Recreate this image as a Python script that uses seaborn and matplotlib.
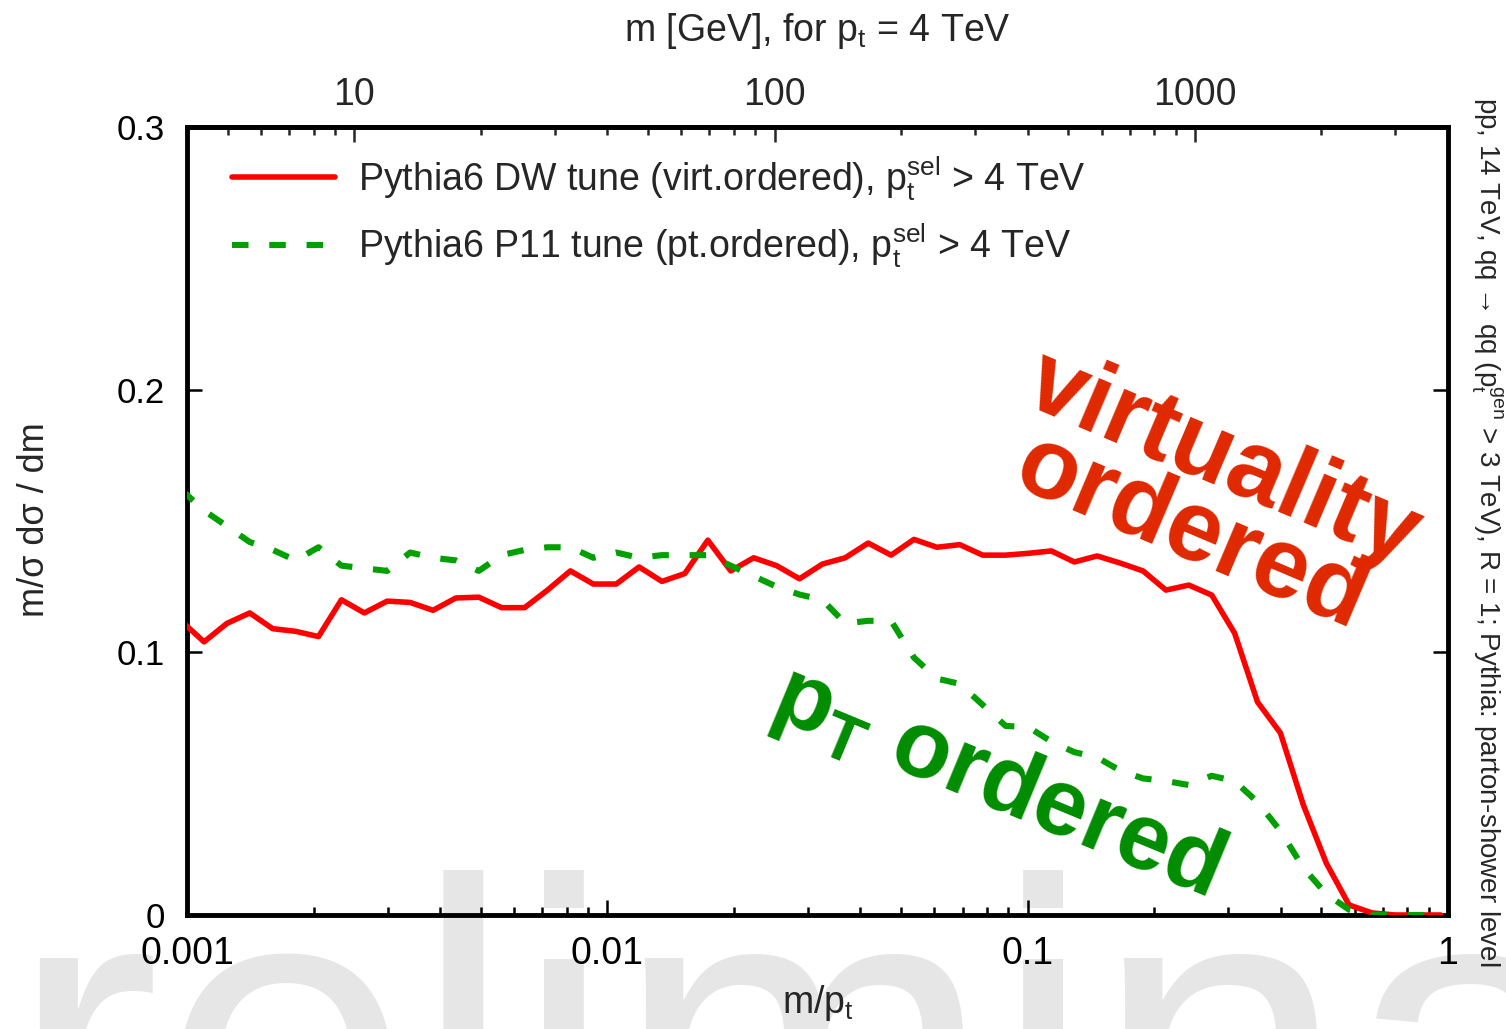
import numpy as np
import pandas as pd
import matplotlib
matplotlib.use("Agg")
import matplotlib.pyplot as plt
import seaborn as sns
from matplotlib import font_manager
from matplotlib.ticker import LogLocator, NullFormatter

# ---------------- data ----------------
x_mpt = [0.000968, 0.001098, 0.001244, 0.001410, 0.001599, 0.001813, 0.002055, 0.002330,
         0.002641, 0.002994, 0.003395, 0.003848, 0.004362, 0.004944, 0.005606, 0.006355,
         0.007204, 0.008167, 0.009261, 0.010500, 0.011900, 0.013490, 0.015290, 0.017340,
         0.019660, 0.022290, 0.025270, 0.028650, 0.032480, 0.036810, 0.041740, 0.047320,
         0.053640, 0.060810, 0.068940, 0.078160, 0.088610, 0.100400, 0.113900, 0.129100,
         0.146300, 0.165900, 0.188100, 0.213300, 0.241700, 0.274100, 0.310700, 0.352200,
         0.399300, 0.452700, 0.513200, 0.581800, 0.659600, 0.747600, 0.847700, 0.961000]

dw_virt = [0.112, 0.104, 0.111, 0.115, 0.109, 0.108, 0.106, 0.120, 0.115, 0.1195,
           0.119, 0.116, 0.1207, 0.121, 0.117, 0.117, 0.1237, 0.131, 0.126, 0.126,
           0.1325, 0.127, 0.130, 0.1427, 0.131, 0.136, 0.133, 0.128, 0.1336, 0.136,
           0.1416, 0.137, 0.143, 0.140, 0.141, 0.137, 0.137, 0.1377, 0.1386, 0.1344,
           0.1367, 0.134, 0.131, 0.1237, 0.1256, 0.1218, 0.1073, 0.0811, 0.0693, 0.0419,
           0.0198, 0.0038, 0.0008, 0.0, 0.0, 0.0]

p11_pt = [0.162, 0.154, 0.148, 0.142, 0.139, 0.135, 0.140, 0.133, 0.132, 0.131,
          0.138, 0.136, 0.135, 0.131, 0.137, 0.139, 0.140, 0.140, 0.136, 0.138,
          0.136, 0.137, 0.137, 0.137, 0.133, 0.129, 0.125, 0.122, 0.120, 0.111,
          0.112, 0.112, 0.098, 0.090, 0.088, 0.080, 0.072, 0.0715, 0.066, 0.062,
          0.060, 0.055, 0.052, 0.051, 0.0495, 0.053, 0.051, 0.043, 0.032, 0.018,
          0.008, 0.002, 0.0, 0.0, 0.0, 0.0]

series_labels = [r"Pythia6 DW tune (virt.ordered), $\mathregular{p_t^{sel}}$ > 4 TeV",
                 r"Pythia6 P11 tune (pt.ordered), $\mathregular{p_t^{sel}}$ > 4 TeV"]
x_ticks = [0.001, 0.01, 0.1, 1]
x_tick_labels = ["0.001", "0.01", "0.1", "1"]
y_ticks = [0, 0.1, 0.2, 0.3]
y_tick_labels = ["0", "0.1", "0.2", "0.3"]
m_ticks = [10, 100, 1000]
m_tick_labels = ["10", "100", "1000"]
PT_GEV = 4000.0

# ---------------- style ----------------
sns.set_theme(style="ticks")
names = {f.name for f in font_manager.fontManager.ttflist}
NARROW = "Liberation Sans Narrow" if "Liberation Sans Narrow" in names else "Liberation Sans"
plt.rcParams["font.family"] = [NARROW, "DejaVu Sans"]
plt.rcParams["mathtext.fontset"] = "custom"
plt.rcParams["mathtext.rm"] = NARROW
plt.rcParams["mathtext.it"] = NARROW + ":italic"
plt.rcParams["mathtext.bf"] = "Liberation Sans:bold"
plt.rcParams["axes.unicode_minus"] = False

W, H = 1506, 1029
fig = plt.figure(figsize=(W / 100, H / 100), dpi=100)
fig.patch.set_facecolor("white")

# watermark behind everything
fig.text(-293 / W, 1 - 1198 / H, "Preliminary", fontsize=327, color="#e6e6e6",
         family="Liberation Sans", ha="left", va="baseline", zorder=-5)

L, R, T, B = 187, 1448, 127, 915
ax = fig.add_axes([L / W, 1 - B / H, (R - L) / W, (B - T) / H])
ax.set_facecolor("none")

df = pd.DataFrame({"x": x_mpt, "dw": dw_virt, "p11": p11_pt})
sns.lineplot(data=df, x="x", y="dw", ax=ax, color="#ff0000", linewidth=4.0,
             label=series_labels[0], zorder=3)
sns.lineplot(data=df, x="x", y="p11", ax=ax, color="#00a000", linewidth=4.4,
             linestyle=(0, (2.7, 3.4)), dash_capstyle="butt",
             label=series_labels[1], zorder=3)

ax.set_xscale("log")
ax.set_xlim(0.001, 1)
ax.set_ylim(0, 0.3)
ax.set_xlabel("")
ax.set_ylabel("")

ax.set_xticks(x_ticks)
ax.set_xticklabels(x_tick_labels, fontsize=27, family=NARROW)
ax.xaxis.set_minor_locator(LogLocator(base=10, subs=np.arange(2, 10)))
ax.xaxis.set_minor_formatter(NullFormatter())
ax.set_yticks(y_ticks)
ax.set_yticklabels(y_tick_labels, fontsize=25, family="Liberation Sans")
ax.tick_params(axis="both", which="major", direction="in", length=11, width=1.8,
               top=False, right=True, colors="black")
ax.tick_params(axis="x", which="minor", direction="in", length=6, width=1.8,
               top=False, colors="black")
ax.tick_params(axis="x", which="major", pad=15)
ax.tick_params(axis="y", which="major", pad=16)
for s in ax.spines.values():
    s.set_linewidth(3.5)
    s.set_color("black")
    s.set_visible(True)

sec = ax.secondary_xaxis("top", functions=(lambda x: x * PT_GEV, lambda m: m / PT_GEV))
sec.set_xticks(m_ticks)
sec.set_xticklabels(m_tick_labels, fontsize=27, family=NARROW)
sec.xaxis.set_minor_locator(LogLocator(base=10, subs=np.arange(2, 10)))
sec.xaxis.set_minor_formatter(NullFormatter())
sec.tick_params(axis="x", which="major", direction="in", length=11, width=1.8, pad=10)
sec.tick_params(axis="x", which="minor", direction="in", length=6, width=1.8)
sec.spines["top"].set_linewidth(3.5)

# legend
handles, labels = ax.get_legend_handles_labels()
ax.legend(handles, labels, loc="upper left", bbox_to_anchor=(45 / (R - L), 0.966),
          frameon=False, fontsize=27, handlelength=2.75, handletextpad=0.62,
          labelspacing=0.5, borderaxespad=0, borderpad=0)

# axis titles
fig.text(818 / W, 1 - 1003 / H, r"m/$\mathregular{p_t}$", fontsize=27, ha="center", va="center")
fig.text(817 / W, 1 - 31 / H, r"m [GeV], for $\mathregular{p_t}$ = 4 TeV", fontsize=27,
         ha="center", va="center")
fig.text(35 / W, 1 - 520 / H, "m/σ dσ / dm", fontsize=26, rotation=90,
         ha="center", va="center")
fig.text(1487 / W, 1 - 532 / H,
         r"pp, 14 TeV, qq → qq ($\mathregular{p_t^{gen}}$ > 3 TeV), R = 1; Pythia: parton-shower level",
         fontsize=20, rotation=-90, ha="center", va="center")

# big annotations
ax.text((1207 - L) / (R - L), (B - 497) / (B - T), "virtuality\nordered",
        transform=ax.transAxes, fontsize=72, fontweight="bold", family="Liberation Sans",
        color="#e02800", rotation=-23, rotation_mode="anchor", ha="center", va="center",
        linespacing=0.82, zorder=4)
ax.text((996 - L) / (R - L), (B - 783) / (B - T), r"$\mathbf{p}_{\mathbf{T}}$ ordered",
        transform=ax.transAxes, fontsize=68, fontweight="bold", family="Liberation Sans",
        color="#008c00", rotation=-22.5, rotation_mode="anchor", ha="center", va="center",
        zorder=4)

fig.savefig("out.png", dpi=100)
